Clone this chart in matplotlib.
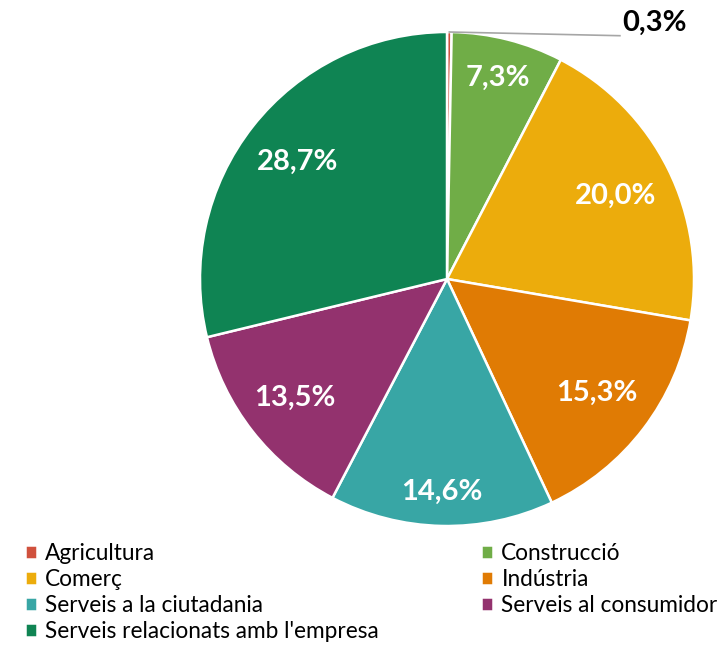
import matplotlib.pyplot as plt
import numpy as np

plt.rcParams['font.family'] = ['Lato', 'DejaVu Sans']

sectors = ['Agricultura', 'Construcció', 'Comerç', 'Indústria',
           'Serveis a la ciutadania', 'Serveis al consumidor',
           "Serveis relacionats amb l'empresa"]
shares = [0.3, 7.3, 20.0, 15.3, 14.6, 13.5, 28.7]
colors = ['#D0513D', '#70AD47', '#ECAC0C', '#E07B04', '#38A6A5', '#93326E', '#0F8453']

# label distance from centre (fraction of radius), per slice
label_r = [None, 0.84, 0.76, 0.76, 0.86, 0.78, 0.77]

fig = plt.figure(figsize=(7.28, 6.52), dpi=100)
ax = fig.add_axes([200 / 728, 126 / 652, 494 / 728, 494 / 652])

wedges, _ = ax.pie(shares, colors=colors, startangle=90, counterclock=False,
                   radius=1, normalize=True,
                   wedgeprops=dict(edgecolor='white', linewidth=1.8))
ax.set_xlim(-1, 1)
ax.set_ylim(-1, 1)
ax.set_aspect('equal')
ax.axis('off')

total = sum(shares)
cum = 0
for i, v in enumerate(shares):
    mid = 90 - 360 * (cum + v / 2) / total
    cum += v
    txt = f"{v:.1f}%".replace('.', ',')
    a = np.deg2rad(mid)
    if label_r[i] is None:
        # small slice, label outside with leader line
        x0, y0 = np.cos(a), np.sin(a)
        ax.plot([x0, 0.70], [y0, 0.985], color='#A6A6A6', lw=1.2, clip_on=False)
        ax.text(0.71, 1.035, txt, ha='left', va='center', fontsize=21,
                fontweight='bold', color='black', clip_on=False)
        continue
    r = label_r[i]
    ax.text(r * np.cos(a), r * np.sin(a), txt, ha='center', va='center',
            fontsize=21, fontweight='bold', color='white')

order = [0, 2, 4, 6, 1, 3, 5]
fig.legend([wedges[i] for i in order], [sectors[i] for i in order],
           loc='upper left', bbox_to_anchor=(25 / 728, 1 - 543 / 652),
           ncol=2, frameon=False, fontsize=16.3, handlelength=0.55,
           handleheight=0.55, handletextpad=0.35, labelspacing=0.22,
           columnspacing=4.5, borderaxespad=0, borderpad=0)

fig.savefig('out.png', dpi=100)
